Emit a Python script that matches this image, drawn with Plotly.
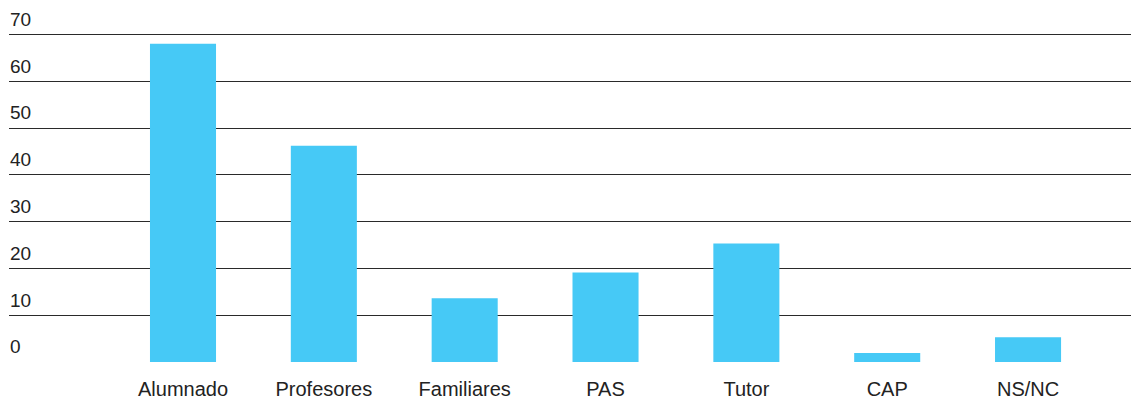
import plotly.graph_objects as go

categories = ["Alumnado", "Profesores", "Familiares", "PAS", "Tutor", "CAP", "NS/NC"]
values = [68, 46.2, 13.6, 19.1, 25.3, 1.9, 5.3]
y_ticks = [0, 10, 20, 30, 40, 50, 60, 70]

BAR_COLOR = "#46C9F6"
TEXT_COLOR = "#222222"
FONT = "Liberation Sans, Arial, sans-serif"

fig = go.Figure(
    go.Bar(
        x=categories,
        y=values,
        marker=dict(color=BAR_COLOR, line=dict(width=0)),
        width=0.469,
        hoverinfo="x+y",
    )
)

fig.update_layout(
    width=1131,
    height=399,
    autosize=False,
    margin=dict(l=9, r=0, t=0, b=36.5, pad=0),
    paper_bgcolor="white",
    plot_bgcolor="white",
    showlegend=False,
    font=dict(family=FONT, color=TEXT_COLOR, size=19),
)

fig.update_xaxes(
    type="category",
    range=[-1.2355, 6.731],
    showgrid=False,
    zeroline=False,
    showline=False,
    ticks="",
    tickfont=dict(size=20, family=FONT, color=TEXT_COLOR),
    ticklabelstandoff=13,
)

fig.update_yaxes(
    range=[0, 77.36],
    tickvals=y_ticks,
    ticktext=[str(v) for v in y_ticks],
    showgrid=True,
    gridcolor="#2a2a2a",
    gridwidth=1,
    zeroline=False,
    showline=False,
    ticks="",
    ticklabelposition="inside top",
    ticklabelshift=-2,
    ticklabelstandoff=-2,
    tickfont=dict(size=19, family=FONT, color=TEXT_COLOR),
)

# remove the default 8px page margin so the figure fills the window exactly
fig.write_html(
    "out.html",
    config={"displayModeBar": False},
    post_script="document.body.style.margin='0';document.body.style.overflow='hidden';",
)
